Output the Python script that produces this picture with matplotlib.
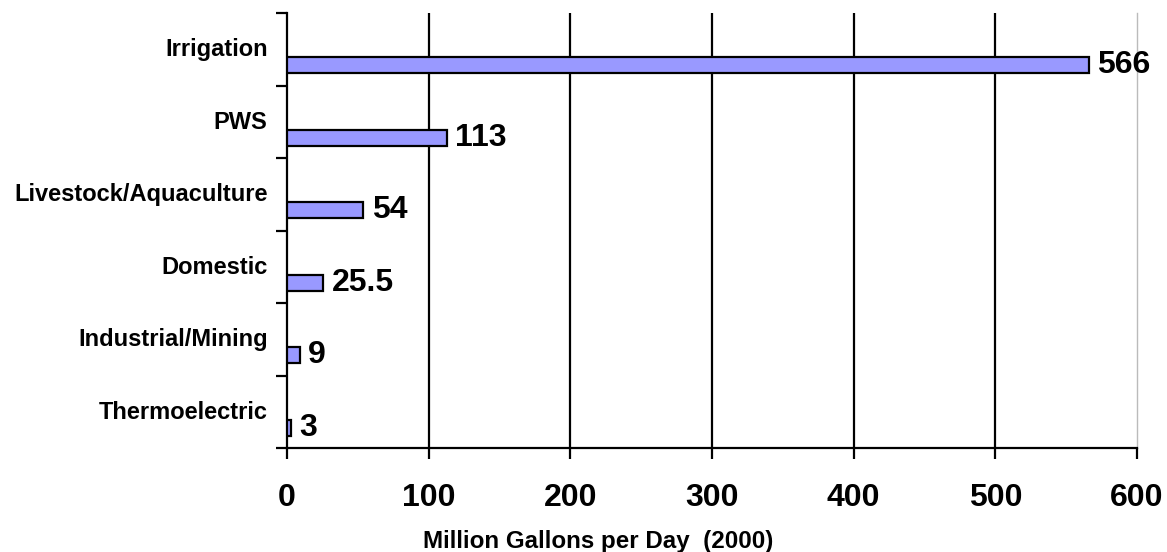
import matplotlib
matplotlib.use("Agg")
import matplotlib.pyplot as plt
from matplotlib.ticker import FixedLocator, NullFormatter

categories = ["Irrigation", "PWS", "Livestock/Aquaculture", "Domestic",
              "Industrial/Mining", "Thermoelectric"]
values = [566, 113, 54, 25.5, 9, 3]
value_labels = ["566", "113", "54", "25.5", "9", "3"]
x_ticks = [0, 100, 200, 300, 400, 500, 600]

plt.rcParams["font.family"] = ["Liberation Sans", "DejaVu Sans"]
plt.rcParams["font.weight"] = "bold"

fig = plt.figure(figsize=(11.67, 5.52), dpi=100)
ax = fig.add_axes([0.2459, 0.1884, 0.9743 - 0.2459, 0.9764 - 0.1884])

n = len(categories)
centers = [n - 0.5 - i for i in range(n)]
bar_pos = [c - 0.22 for c in centers]

ax.barh(bar_pos, values, height=0.22, color="#9999FF", edgecolor="black",
        linewidth=1.6, zorder=3)

for y, v, lab in zip(bar_pos, values, value_labels):
    ax.annotate(lab, (v, y), xytext=(6, 0), textcoords="offset points",
                va="center", ha="left", fontsize=23, fontweight="bold",
                zorder=4)

ax.set_xlim(0, 600)
ax.set_ylim(0, n)

# vertical grid lines
for xv in x_ticks[1:-1]:
    ax.axvline(xv, color="black", linewidth=1.6, zorder=1)
ax.axvline(600, color="#BBBBBB", linewidth=1.0, zorder=1, clip_on=False)

ax.set_xticks(x_ticks)
ax.set_xticklabels([str(t) for t in x_ticks], fontsize=23, fontweight="bold")
ax.tick_params(axis="x", direction="out", length=8, width=1.6, pad=17)

ax.yaxis.set_major_locator(FixedLocator(list(range(n + 1))))
ax.yaxis.set_major_formatter(NullFormatter())
ax.yaxis.set_minor_locator(FixedLocator([c + 0.03 for c in centers]))
ax.set_yticklabels(categories, minor=True, fontsize=17, fontweight="bold")
ax.tick_params(axis="y", which="major", direction="out", length=8, width=1.6)
ax.tick_params(axis="y", which="minor", length=0, pad=14)

for side in ("top", "right"):
    ax.spines[side].set_visible(False)
for side in ("left", "bottom"):
    ax.spines[side].set_linewidth(1.6)

ax.set_xlabel("Million Gallons per Day  (2000)", fontsize=17.4,
              fontweight="bold", va="top")
ax.xaxis.set_label_coords(0.366, -0.188)

fig.savefig("out.png", dpi=100)
